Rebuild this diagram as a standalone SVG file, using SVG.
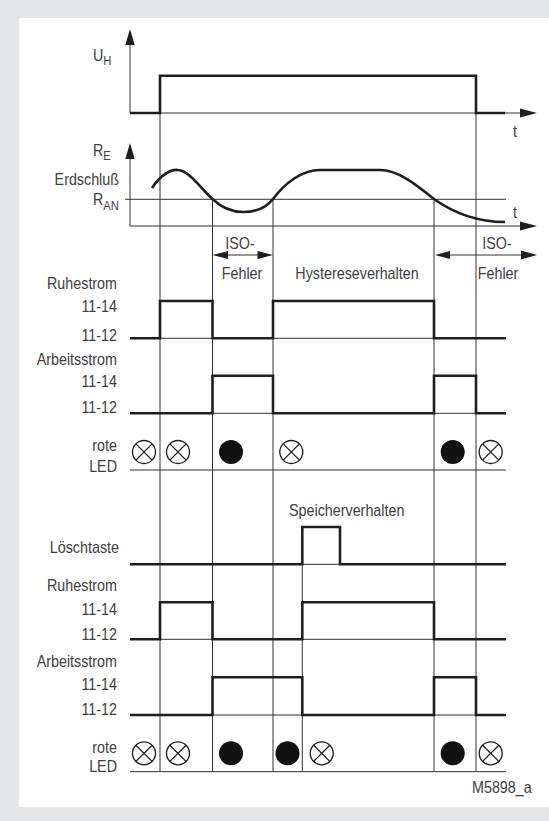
<svg xmlns="http://www.w3.org/2000/svg" xmlns:xlink="http://www.w3.org/1999/xlink" width="549" height="821" viewBox="0 0 549 821">
<style>
.thin{stroke:#333;stroke-width:1;fill:none}
.thick{stroke:#1e1e1e;stroke-width:2.6;fill:none;stroke-linejoin:miter;stroke-linecap:butt}
.ah{fill:#1e1e1e;stroke:none}
text{font-family:"Liberation Sans",Arial,sans-serif;font-size:16px;fill:#404040}
.e{text-anchor:end}
.m{text-anchor:middle}
.sub{font-size:12.5px}
</style>
<defs>
<g id="ledoff"><circle r="11.5" fill="none" stroke="#1e1e1e" stroke-width="1.3"/><path d="M-8.1,-8.1L8.1,8.1M-8.1,8.1L8.1,-8.1" stroke="#1e1e1e" stroke-width="1.3"/></g>
<circle id="ledon" r="12" fill="#111"/>
</defs>
<rect x="0" y="0" width="549" height="821" fill="#e6e7e8"/>
<rect x="19" y="18" width="530" height="789" fill="#fff"/>

<g id="connectors">
<line class="thin" x1="130" y1="44" x2="130" y2="113"/>
<polygon class="ah" points="130,29 125.3,45 134.7,45"/>
<line class="thin" x1="130" y1="113" x2="522" y2="113"/>
<polygon class="ah" points="537,113 520,108.5 520,117.5"/>
<line class="thin" x1="130" y1="157" x2="130" y2="226"/>
<polygon class="ah" points="130,143 125.3,159 134.7,159"/>
<line class="thin" x1="130" y1="226" x2="522" y2="226"/>
<polygon class="ah" points="537,226 520,221.5 520,230.5"/>
<line class="thin" x1="125" y1="199.3" x2="506" y2="199.3"/>
<line class="thin" x1="160" y1="75.7" x2="160" y2="771.7"/>
<line class="thin" x1="476" y1="75.7" x2="476" y2="771.7"/>
<line class="thin" x1="212.5" y1="199.3" x2="212.5" y2="771.7"/>
<line class="thin" x1="273" y1="199.3" x2="273" y2="771.7"/>
<line class="thin" x1="434" y1="199.3" x2="434" y2="771.7"/>
<line class="thin" x1="302.3" y1="527" x2="302.3" y2="771.7"/>
<line class="thin" x1="220" y1="255" x2="266" y2="255"/>
<polygon class="ah" points="212.5,255 228,251 228,259"/>
<polygon class="ah" points="273,255 257.5,251 257.5,259"/>
<line class="thin" x1="442" y1="255" x2="525" y2="255"/>
<polygon class="ah" points="435,255 450,251 450,259"/>
<polygon class="ah" points="537,255 521,250.5 521,259.5"/>
<line class="thin" x1="130" y1="338.3" x2="506" y2="338.3"/>
<line class="thin" x1="130" y1="413.3" x2="506" y2="413.3"/>
<line class="thin" x1="130" y1="470" x2="506" y2="470"/>
<line class="thin" x1="130" y1="564.3" x2="506" y2="564.3"/>
<line class="thin" x1="130" y1="639.3" x2="506" y2="639.3"/>
<line class="thin" x1="130" y1="715" x2="506" y2="715"/>
<line class="thin" x1="130" y1="771.7" x2="506" y2="771.7"/>
</g>

<g id="signal-uh"><path class="thick" d="M130,113H160V75.7H476V113H505"/></g>
<g id="signal-re"><path class="thick" d="M152,188C160,176 170,169 178,170C190,171 202,190 212.5,199C222,208 232,212 243,212C256,212 266,208 273,199C285,183 302,170 320,170L380,170C400,170 420,188 434,199C455,214 480,222 505,222"/></g>
<g id="signal-ruhe1"><path class="thick" d="M130,338.3H160V301H212.5V338.3H273V301H434V338.3H506"/></g>
<g id="signal-arbeit1"><path class="thick" d="M130,413.3H212.5V375.7H273V413.3H434V375.7H476V413.3H506"/></g>
<g id="signal-loesch"><path class="thick" d="M130,564.3H302.3V527H340V564.3H506"/></g>
<g id="signal-ruhe2"><path class="thick" d="M130,639.3H160V602.3H212.5V639.3H302.3V602.3H434V639.3H506"/></g>
<g id="signal-arbeit2"><path class="thick" d="M130,715H212.5V677.3H302.3V715H434V677.3H476V715H506"/></g>

<g id="led1">
<use href="#ledoff" x="144" y="452"/>
<use href="#ledoff" x="178" y="452"/>
<use href="#ledon" x="231" y="452"/>
<use href="#ledoff" x="291.3" y="452"/>
<use href="#ledon" x="452.7" y="452"/>
<use href="#ledoff" x="490.7" y="452"/>
</g>
<g id="led2">
<use href="#ledoff" x="144" y="753.3"/>
<use href="#ledoff" x="178" y="753.3"/>
<use href="#ledon" x="231" y="753.3"/>
<use href="#ledon" x="287.5" y="753.3"/>
<use href="#ledoff" x="321.7" y="753.3"/>
<use href="#ledon" x="452.7" y="753.3"/>
<use href="#ledoff" x="490.7" y="753.3"/>
</g>

<g id="labels">
<text transform="translate(93 61) scale(0.895 1)">U<tspan class="sub" dy="4">H</tspan></text>
<text transform="translate(513 137) scale(0.895 1)">t</text>
<text transform="translate(93 156) scale(0.895 1)">R<tspan class="sub" dy="4">E</tspan></text>
<text class="e" transform="translate(119 185) scale(0.895 1)">Erdschluß</text>
<text transform="translate(93 205) scale(0.895 1)">R<tspan class="sub" dy="5">AN</tspan></text>
<text transform="translate(513 218) scale(0.895 1)">t</text>
<text class="m" transform="translate(240 249) scale(0.895 1)">ISO-</text>
<text class="m" transform="translate(242 279) scale(0.895 1)">Fehler</text>
<text class="m" transform="translate(497 249) scale(0.895 1)">ISO-</text>
<text class="m" transform="translate(498 279) scale(0.895 1)">Fehler</text>
<text class="m" transform="translate(357 279) scale(0.895 1)">Hystereseverhalten</text>
<text class="e" transform="translate(117 289) scale(0.895 1)">Ruhestrom</text>
<text class="e" transform="translate(117 312) scale(0.895 1)">11-14</text>
<text class="e" transform="translate(117 341) scale(0.895 1)">11-12</text>
<text class="e" transform="translate(117 365) scale(0.895 1)">Arbeitsstrom</text>
<text class="e" transform="translate(117 387) scale(0.895 1)">11-14</text>
<text class="e" transform="translate(117 413) scale(0.895 1)">11-12</text>
<text class="e" transform="translate(117 451) scale(0.895 1)">rote</text>
<text class="e" transform="translate(117 471.5) scale(0.895 1)">LED</text>
<text class="m" transform="translate(346.7 515.5) scale(0.895 1)">Speicherverhalten</text>
<text class="e" transform="translate(119 553) scale(0.895 1)">Löschtaste</text>
<text class="e" transform="translate(117 590.5) scale(0.895 1)">Ruhestrom</text>
<text class="e" transform="translate(117 615) scale(0.895 1)">11-14</text>
<text class="e" transform="translate(117 640) scale(0.895 1)">11-12</text>
<text class="e" transform="translate(117 666.5) scale(0.895 1)">Arbeitsstrom</text>
<text class="e" transform="translate(117 690) scale(0.895 1)">11-14</text>
<text class="e" transform="translate(117 715) scale(0.895 1)">11-12</text>
<text class="e" transform="translate(117 753) scale(0.895 1)">rote</text>
<text class="e" transform="translate(117 771.5) scale(0.895 1)">LED</text>
<text transform="translate(472 793) scale(0.895 1)">M5898_a</text>
</g>
</svg>
